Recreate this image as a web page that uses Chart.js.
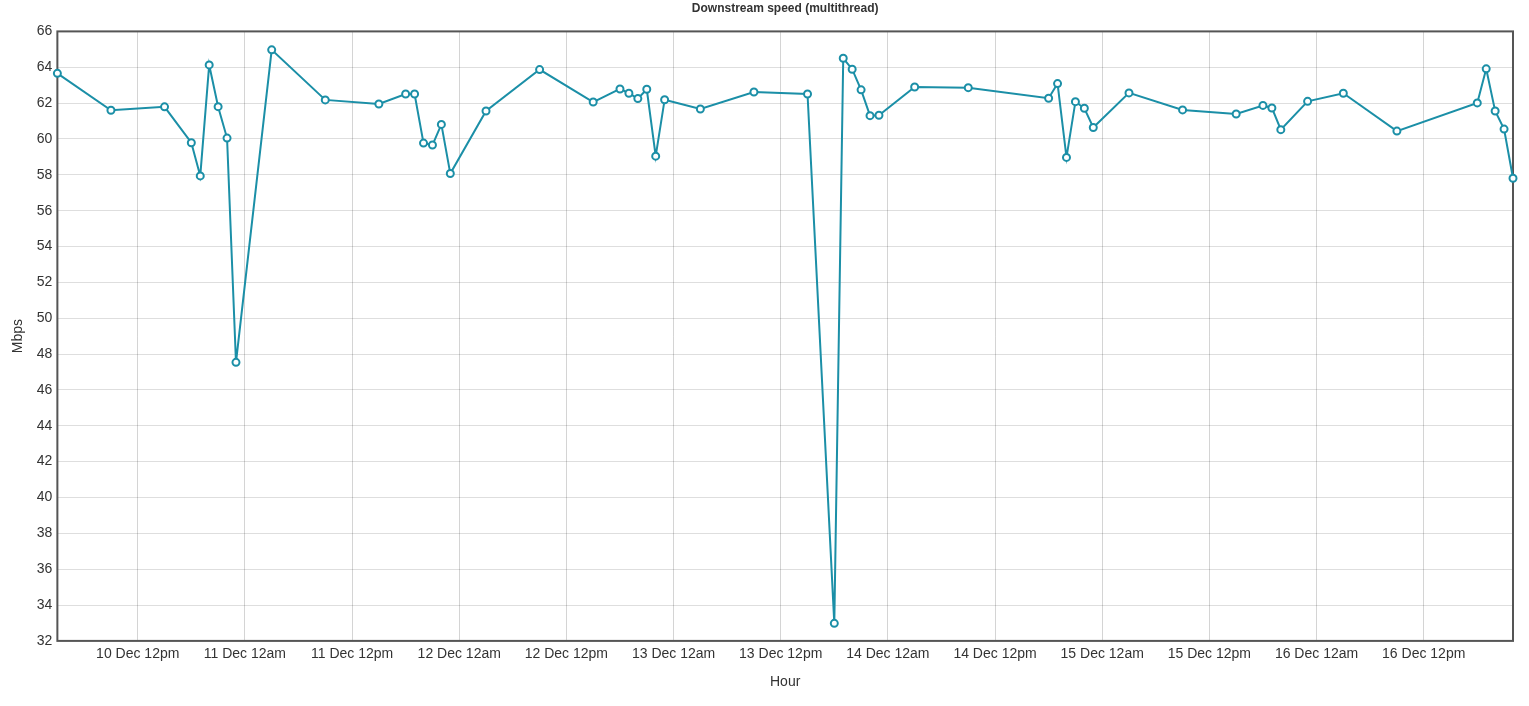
<!DOCTYPE html>
<html>
<head>
<meta charset="utf-8">
<script src="https://cdn.jsdelivr.net/npm/chart.js@4/dist/chart.umd.min.js"></script>
<style>
  html, body { margin: 0; padding: 0; background: #fff; }
  #wrap { width: 1529px; height: 706px; }
</style>
</head>
<body>
<div id="wrap"><canvas id="chart"></canvas></div>
<script>
// hours since 10 Dec 00:00
const hours = [
  3, 9, 15, 18, 19, 20, 21, 22, 23, 27,
  33, 39, 42, 43, 44, 45, 46, 47, 51, 57,
  63, 66, 67, 68, 69, 70, 71, 75, 81, 87,
  90, 91, 92, 93, 94, 95, 99, 105, 114, 115,
  116, 117, 118, 119, 123, 129, 135, 138, 139, 140,
  143, 147, 153, 162, 163, 164, 165, 166
];

const speeds = [
  63.66, 61.6, 61.79, 59.79, 57.94, 64.13, 61.8, 60.05, 47.54, 64.97,
  62.18, 61.95, 62.51, 62.51, 59.77, 59.66, 60.81, 58.07, 61.56, 63.87,
  62.06, 62.79, 62.55, 62.25, 62.77, 59.04, 62.19, 61.67, 62.62, 62.51,
  32.98, 64.5, 63.89, 62.74, 61.3, 61.32, 62.9, 62.86, 62.27, 63.09,
  58.97, 62.08, 61.71, 60.64, 62.57, 61.62, 61.39, 61.87, 61.73, 60.52,
  62.1, 62.55, 60.44, 62.01, 63.91, 61.56, 60.55, 57.81
];

const yTicks = [32, 34, 36, 38, 40, 42, 44, 46, 48, 50, 52, 54, 56, 58, 60, 62, 64, 66];

const lineColor = '#1b8fa7';
const font = "'Liberation Sans', Arial, sans-serif";

function hourLabel(h) {
  const day = 10 + Math.floor(h / 24);
  const part = (h % 24) === 0 ? '12am' : '12pm';
  return day + ' Dec ' + part;
}

// frame round the plot area
const frame = {
  id: 'frame',
  beforeDatasetsDraw(chart) {
    const a = chart.chartArea;
    const c = chart.ctx;
    c.save();
    c.strokeStyle = '#555';
    c.lineWidth = 2;
    c.strokeRect(a.left, a.top, a.right - a.left, a.bottom - a.top);
    c.restore();
  }
};

new Chart(document.getElementById('chart'), {
  type: 'line',
  data: {
    datasets: [{
      data: hours.map((h, i) => ({ x: h, y: speeds[i] })),
      borderColor: lineColor,
      borderWidth: 2,
      backgroundColor: '#fff',
      pointBackgroundColor: '#fff',
      pointBorderColor: lineColor,
      pointBorderWidth: 2,
      pointRadius: 3.5,
      tension: 0,
      clip: false
    }]
  },
  options: {
    responsive: true,
    maintainAspectRatio: false,
    animation: false,
    layout: { padding: { left: 0, right: 16, top: 0, bottom: 0 } },
    plugins: {
      legend: { display: false },
      tooltip: { enabled: false },
      title: {
        display: true,
        text: 'Downstream speed (multithread)',
        color: '#333',
        fullSize: false,
        font: { family: font, size: 12, weight: 'bold' },
        padding: { top: 1, bottom: 16 }
      }
    },
    scales: {
      x: {
        type: 'linear',
        min: hours[0],
        max: hours[hours.length - 1],
        afterBuildTicks(scale) {
          const t = [];
          for (let h = Math.ceil(scale.min / 12) * 12; h <= scale.max; h += 12) t.push({ value: h });
          scale.ticks = t;
        },
        ticks: {
          color: '#333',
          padding: 5,
          maxRotation: 0,
          font: { family: font, size: 14 },
          callback: (v) => hourLabel(v)
        },
        grid: { color: 'rgba(0,0,0,0.17)', drawTicks: false },
        border: { display: false },
        title: {
          display: true,
          text: 'Hour',
          color: '#333',
          font: { family: font, size: 14 },
          padding: { top: 6.5, bottom: 15 }
        }
      },
      y: {
        min: yTicks[0],
        max: yTicks[yTicks.length - 1],
        afterBuildTicks(scale) {
          scale.ticks = yTicks.map(v => ({ value: v }));
        },
        ticks: {
          color: '#333',
          padding: 5,
          font: { family: font, size: 14 }
        },
        grid: { color: 'rgba(0,0,0,0.13)', drawTicks: false },
        border: { display: false },
        title: {
          display: true,
          text: 'Mbps',
          color: '#333',
          font: { family: font, size: 14 },
          padding: { top: 10, bottom: 5 }
        }
      }
    }
  },
  plugins: [frame]
});
</script>
</body>
</html>
